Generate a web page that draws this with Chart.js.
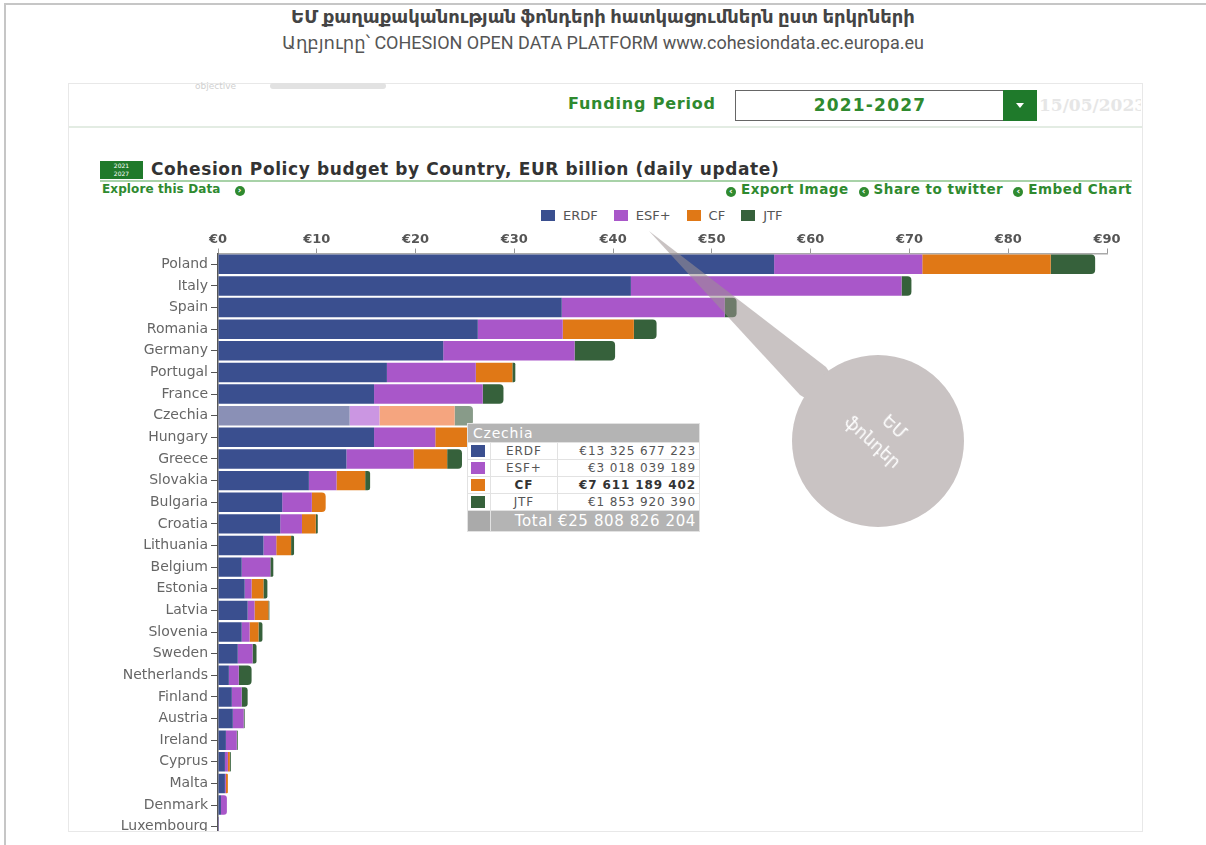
<!DOCTYPE html>
<html>
<head>
<meta charset="utf-8">
<script src="https://cdn.jsdelivr.net/npm/chart.js@4.4.1/dist/chart.umd.min.js"></script>
<style>
    body { margin: 0; width: 1206px; height: 845px; overflow: hidden; background: #fff; position: relative;
           font-family: "DejaVu Sans", Verdana, sans-serif; }
    .abs { position: absolute; }
    #frame { left: 4px; top: 3px; width: 1300px; height: 900px; border-left: 2px solid #c6c6c6; border-top: 2px solid #c6c6c6; }
    #t1 { left: 0; top: 6px; width: 1206px; text-align: center; font: bold 18px Roboto, "DejaVu Sans", sans-serif; color: #444; }
    #t2 { left: 0; top: 32px; width: 1206px; text-align: center; font: 18px Roboto, "DejaVu Sans", sans-serif; color: #555; }
    #shot { left: 68px; top: 83px; width: 1073px; height: 747px; border: 1px solid #e8e8e8; }
    #sep { left: 69px; top: 126px; width: 1073px; height: 2px; background: #e3ece3; }
    #obj { left: 195px; top: 81px; font-size: 9px; color: #d0d0d0; }
    #objbar { left: 270px; top: 83px; width: 116px; height: 6px; background: #e2e2e2; border-radius: 3px; }
    .green { color: #2f8a2f; font-weight: bold; }
    #fp { left: 568px; top: 94px; font-size: 16px; letter-spacing: 0.8px; }
    #sel { left: 735px; top: 90px; width: 268px; height: 29px; border: 1px solid #666; border-right: none;
           text-align: center; line-height: 29px; font-size: 17px; letter-spacing: 1.2px; }
    #selbtn { left: 1003px; top: 90px; width: 34px; height: 31px; background: #1f7a2b; }
    #selbtn:after { content: ""; position: absolute; left: 13px; top: 13px; border-left: 4px solid transparent;
           border-right: 4px solid transparent; border-top: 5px solid #fff; }
    #date { left: 1039px; top: 95px; width: 102px; overflow: hidden; white-space: nowrap; font: bold 17px "DejaVu Serif", serif; color: #e6e6e6; }
    #badge { left: 100px; top: 161px; width: 43px; height: 18px; background: #1f7a2b; color: #fff;
             font-size: 6px; line-height: 8px; text-align: center; padding-top: 1px; box-sizing: border-box; }
    #ctitle { left: 151px; top: 159px; font-size: 17px; letter-spacing: 0.6px; font-weight: bold; color: #333; }
    #cline { left: 100px; top: 180px; width: 1032px; height: 2px; background: #a8d2a8; }
    #explore { left: 102px; top: 182px; font-size: 12px; letter-spacing: 0.1px; }
    #links { right: 74px; top: 181px; font-size: 13.5px; letter-spacing: 0.5px; }
    .ic { display: inline-block; width: 10px; height: 10px; border-radius: 50%; background: #2f8a2f; color: #fff;
          font-size: 9px; line-height: 9px; text-align: center; vertical-align: 0px; margin: 0 5px 0 10px; letter-spacing: 0; }
    #legend { left: 541px; top: 208px; display: flex; align-items: center; font-size: 13px; color: #555; }
    #legend .it { display: flex; align-items: center; margin-right: 16px; }
    #legend .sq { width: 14px; height: 11px; margin-right: 8px; }
    #wrap { left: 0; top: 0; width: 1206px; height: 831px; overflow: hidden; }
    #box { position: relative; width: 1206px; height: 860px; }
    #tip { display: none; z-index: 5; }
    #tip table { border-collapse: collapse; width: 233px; font-size: 12px; letter-spacing: 0.9px; color: #555; background: #fff; }
    #tip td { border: 1px solid #e2e2e2; padding: 0 3px; height: 16px; }
    #tip .hd td { background: #b4b4b4; color: #fff; font-size: 14px; height: 18px; letter-spacing: 0.8px; padding-left: 5px; }
    #tip .sw { width: 16px; }
    #tip .sw span { display: block; width: 14px; height: 12px; }
    #tip .lb { text-align: center; width: 60px; }
    #tip .vl { text-align: right; }
    #tip .b td { font-weight: bold; color: #333; }
    #tip .tot td { background: #b4b4b4; color: #fff; font-size: 15px; height: 20px; text-align: right; letter-spacing: 0.6px; }
    #tip .tot td:first-child { background: #aaa; }
    #callout { left: 0; top: 0; z-index: 6; pointer-events: none; }
</style>
</head>
<body>
<div id="frame" class="abs"></div>
<div id="t1" class="abs">ԵՄ քաղաքականության ֆոնդերի հատկացումներն ըստ երկրների</div>
<div id="t2" class="abs">Աղբյուրը՝ COHESION OPEN DATA PLATFORM www.cohesiondata.ec.europa.eu</div>

<div id="shot" class="abs"></div>
<div id="sep" class="abs"></div>
<div id="obj" class="abs">objective</div>
<div id="objbar" class="abs"></div>
<div id="fp" class="abs green">Funding Period</div>
<div id="sel" class="abs green">2021-2027</div>
<div id="selbtn" class="abs"></div>
<div id="date" class="abs">15/05/2023</div>
<div id="badge" class="abs">2021<br>2027</div>
<div id="ctitle" class="abs">Cohesion Policy budget by Country, EUR billion (daily update)</div>
<div id="cline" class="abs"></div>
<div id="explore" class="abs green">Explore this Data <span class="ic">›</span></div>
<div id="links" class="abs green"><span class="ic">‹</span>Export Image<span class="ic">‹</span>Share to twitter<span class="ic">‹</span>Embed Chart</div>
<div id="legend" class="abs"></div>

<div id="wrap" class="abs"><div id="box"><canvas id="budgetChart"></canvas></div></div>
<div id="tip" class="abs"></div>

<svg id="callout" class="abs" width="1206" height="845">
    <polygon points="649,231 826,367 878,441 800,395" fill="rgba(157,146,146,0.55)"/>
    <circle cx="878" cy="441" r="86" fill="#c9c3c3"/>
    <g transform="translate(878,436) rotate(42)" fill="#fff" font-family="DejaVu Sans, sans-serif" font-size="17" text-anchor="middle">
        <text x="6" y="-12">ԵՄ</text>
        <text x="0" y="14">ֆոնդեր</text>
    </g>
</svg>

<script>
// values, EUR billion (Czechia from the tooltip)
const countries = ['Poland', 'Italy', 'Spain', 'Romania', 'Germany', 'Portugal', 'France', 'Czechia', 'Hungary',
    'Greece', 'Slovakia', 'Bulgaria', 'Croatia', 'Lithuania', 'Belgium', 'Estonia', 'Latvia', 'Slovenia', 'Sweden',
    'Netherlands', 'Finland', 'Austria', 'Ireland', 'Cyprus', 'Malta', 'Denmark', 'Luxembourg'];
const erdf = [56.3, 41.8, 34.8, 26.3, 22.8, 17.1, 15.8, 13.325677223, 15.8, 13.0, 9.2, 6.5, 6.3, 4.6, 2.4, 2.7, 3.0,
    2.4, 2.0, 1.1, 1.4, 1.5, 0.8, 0.7, 0.7, 0.3, 0.03];
const esfPlus = [15.0, 27.4, 16.5, 8.6, 13.3, 9.0, 11.0, 3.018039189, 6.2, 6.8, 2.8, 3.0, 2.2, 1.3, 2.9, 0.7, 0.7,
    0.8, 1.5, 1.0, 1.0, 1.1, 1.1, 0.3, 0.1, 0.6, 0.03];
const cf = [13.0, 0, 0, 7.2, 0, 3.7, 0, 7.611189402, 4.0, 3.4, 2.9, 1.4, 1.4, 1.5, 0, 1.2, 1.4, 0.9, 0, 0, 0, 0, 0,
    0.2, 0.2, 0, 0];
const jtf = [4.5, 1.0, 1.2, 2.3, 4.1, 0.3, 2.1, 1.85392039, 0.3, 1.5, 0.5, 0, 0.2, 0.3, 0.3, 0.4, 0.1, 0.4, 0.4, 1.3,
    0.6, 0.1, 0.1, 0.1, 0, 0, 0.01];
const fundLabels = ['ERDF', 'ESF+', 'CF', 'JTF'];
const xTicks = [0, 10, 20, 30, 40, 50, 60, 70, 80, 90];

const baseColors = ['#3a4f8f', '#a957c9', '#e07816', '#36613b'];
const fadedColors = ['#8a90b6', '#cb96e2', '#f5a57f', '#889b89'];
const hoverIndex = countries.indexOf('Czechia');
const hoverDataset = 2;

function euro(v) {
    return '€' + Math.round(v * 1e9).toString().replace(/\B(?=(\d{3})+(?!\d))/g, ' ');
}

function externalTooltip(context) {
    const { chart, tooltip } = context;
    const el = document.getElementById('tip');
    if (tooltip.opacity === 0) { el.style.display = 'none'; return; }
    const pts = tooltip.dataPoints;
    const i = pts[0].dataIndex;
    let total = 0;
    let rows = '';
    pts.forEach(p => {
        total += p.raw;
        const cls = p.datasetIndex === hoverDataset ? ' class="b"' : '';
        rows += `<tr${cls}><td class="sw"><span style="background:${baseColors[p.datasetIndex]}"></span></td>` +
            `<td class="lb">${p.dataset.label}</td><td class="vl">${euro(p.raw)}</td></tr>`;
    });
    el.innerHTML = `<table><tr class="hd"><td colspan="3">${countries[i]}</td></tr>${rows}` +
        `<tr class="tot"><td></td><td colspan="2">Total ${euro(total)}</td></tr></table>`;
    el.style.left = (chart.scales.x.getPixelForValue(total) - 6) + 'px';
    el.style.top = (chart.scales.y.getPixelForValue(i) + 7) + 'px';
    el.style.display = 'block';
}

Chart.defaults.font.family = '"DejaVu Sans", Verdana, sans-serif';

const series = [erdf, esfPlus, cf, jtf];
const chart = new Chart(document.getElementById('budgetChart'), {
    type: 'bar',
    data: {
        labels: countries,
        datasets: series.map((values, d) => ({
            label: fundLabels[d],
            data: values,
            backgroundColor: ctx => ctx.dataIndex === hoverIndex ? fadedColors[d] : baseColors[d],
            borderRadius: 4,
            barPercentage: 0.9,
            categoryPercentage: 1
        }))
    },
    options: {
        indexAxis: 'y',
        responsive: true,
        maintainAspectRatio: false,
        animation: false,
        events: [],
        layout: { padding: { left: 100, right: 99, top: 223.5, bottom: 22.5 } },
        plugins: {
            legend: { display: false },
            tooltip: { enabled: false, external: externalTooltip }
        },
        scales: {
            x: {
                position: 'top',
                stacked: true,
                min: 0,
                max: 90,
                afterBuildTicks: s => { s.ticks = xTicks.map(v => ({ value: v })); },
                afterFit: s => { s.height = 30; },
                ticks: {
                    callback: v => '€' + v,
                    color: '#555',
                    padding: 1,
                    maxRotation: 0,
                    font: { size: 13, weight: 'bold' }
                },
                grid: { drawOnChartArea: false, tickLength: 5, color: '#999' },
                border: { color: '#aaa', width: 1.5 }
            },
            y: {
                stacked: true,
                afterFit: s => { s.width = 118; },
                ticks: { color: '#666', padding: 3, font: { size: 14 } },
                grid: { drawOnChartArea: false, offset: false, tickLength: 7, color: '#555' },
                border: { color: '#555', width: 1.5 }
            }
        }
    }
});

// legend built from the chart's own datasets
const legend = document.getElementById('legend');
chart.data.datasets.forEach((ds, d) => {
    const it = document.createElement('div');
    it.className = 'it';
    it.innerHTML = `<span class="sq" style="background:${baseColors[d]}"></span>${ds.label}`;
    legend.appendChild(it);
});

// show the Czechia tooltip as in the screenshot
chart.tooltip.setActiveElements(
    series.map((_, d) => ({ datasetIndex: d, index: hoverIndex })),
    { x: 0, y: 0 }
);
chart.update();
</script>
</body>
</html>
